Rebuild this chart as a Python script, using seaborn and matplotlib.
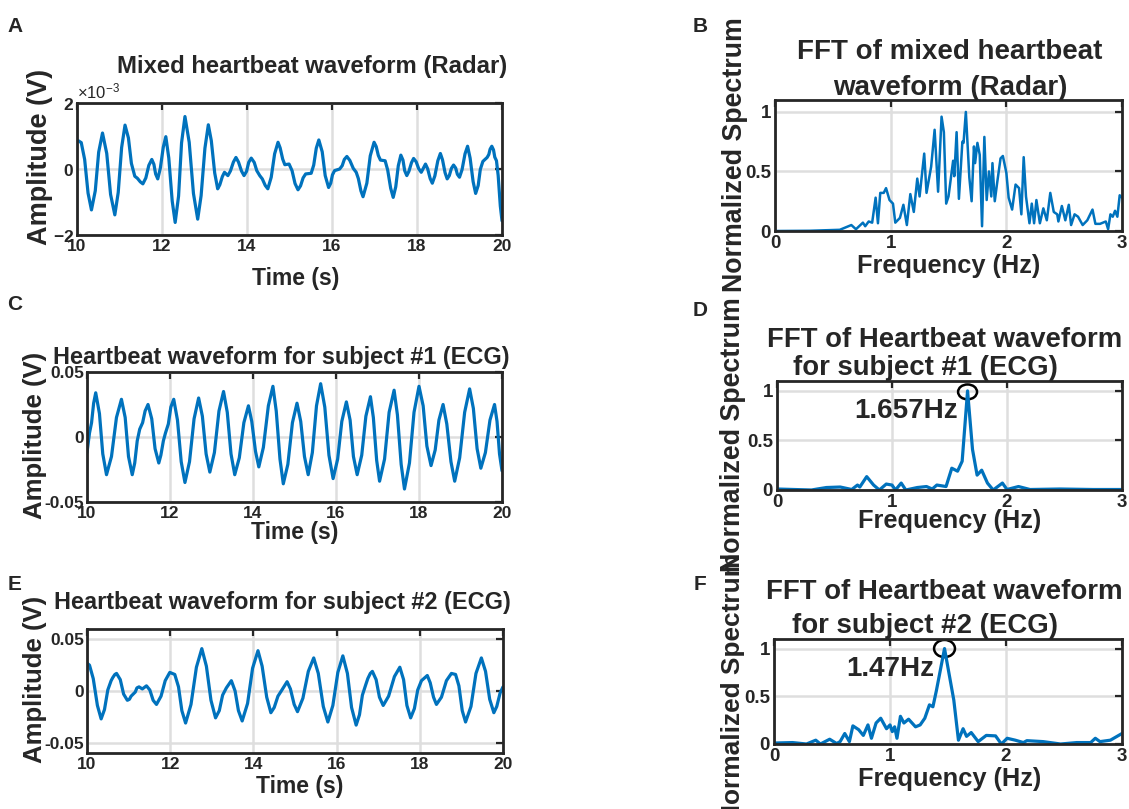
import matplotlib
matplotlib.use("Agg")
import matplotlib.pyplot as plt
from matplotlib.patches import Ellipse
from matplotlib.ticker import ScalarFormatter
import numpy as np
import seaborn as sns

# ---- data -------------------------------------------------------------
# radar waveform, (time s, amplitude mV)
radar_points = [
    (10.0, 0.88), (10.1, 0.8), (10.18, 0.29), (10.26, -0.73), (10.34, -1.24),
    (10.43, -0.66), (10.51, 0.51), (10.6, 1.09), (10.70, 0.47), (10.79, -0.77),
    (10.89, -1.39), (10.97, -0.71), (11.05, 0.65), (11.13, 1.33), (11.21, 0.94),
    (11.28, 0.17), (11.36, -0.22), (11.42, -0.28), (11.49, -0.39), (11.55, -0.45),
    (11.62, -0.27), (11.69, 0.11), (11.76, 0.29), (11.81, 0.14), (11.85, -0.15),
    (11.9, -0.3), (11.96, 0.02), (12.03, 0.66), (12.09, 0.98), (12.16, 0.33),
    (12.24, -0.97), (12.31, -1.62), (12.39, -0.82), (12.46, 0.79), (12.54, 1.59),
    (12.64, 0.81), (12.74, -0.74), (12.84, -1.52), (12.92, -0.81), (13.01, 0.63),
    (13.09, 1.34), (13.16, 0.86), (13.24, -0.12), (13.31, -0.6), (13.36, -0.48),
    (13.42, -0.23), (13.47, -0.1), (13.55, -0.2), (13.61, -0.06), (13.68, 0.21),
    (13.74, 0.35), (13.80, 0.21), (13.87, -0.06), (13.93, -0.2), (13.99, -0.07),
    (14.04, 0.20), (14.1, 0.33), (14.17, 0.2), (14.23, -0.05), (14.3, -0.2),
    (14.36, -0.3), (14.43, -0.5), (14.49, -0.6), (14.57, -0.25), (14.65, 0.46),
    (14.73, 0.81), (14.78, 0.64), (14.84, 0.30), (14.89, 0.13), (14.99, 0.15),
    (15.06, -0.05), (15.13, -0.44), (15.2, -0.63), (15.26, -0.51), (15.32, -0.27),
    (15.38, -0.15), (15.51, -0.13), (15.57, 0.12), (15.63, 0.63), (15.69, 0.88),
    (15.77, 0.52), (15.84, -0.20), (15.92, -0.56), (15.97, -0.43), (16.01, -0.18),
    (16.06, -0.05), (16.18, 0.0), (16.24, 0.10), (16.29, 0.29), (16.35, 0.38),
    (16.42, 0.26), (16.5, 0.02), (16.57, -0.1), (16.62, -0.29), (16.68, -0.66),
    (16.73, -0.84), (16.82, -0.43), (16.9, 0.40), (16.99, 0.81), (17.04, 0.68),
    (17.09, 0.41), (17.14, 0.27), (17.25, 0.25), (17.31, -0.03), (17.38, -0.58),
    (17.44, -0.86), (17.5, -0.54), (17.56, 0.10), (17.62, 0.42), (17.67, 0.27),
    (17.71, -0.05), (17.76, -0.2), (17.81, -0.07), (17.87, 0.19), (17.92, 0.32),
    (17.98, 0.22), (18.04, 0.01), (18.1, -0.1), (18.2, 0.15), (18.25, 0.01),
    (18.31, -0.29), (18.36, -0.43), (18.42, -0.21), (18.49, 0.25), (18.55, 0.47),
    (18.6, 0.28), (18.66, -0.11), (18.71, -0.3), (18.76, -0.2), (18.81, 0.02),
    (18.86, 0.12), (18.91, 0.03), (18.95, -0.16), (19.0, -0.25), (19.06, -0.02),
    (19.13, 0.46), (19.19, 0.69), (19.25, 0.33), (19.32, -0.38), (19.38, -0.74),
    (19.44, -0.50), (19.49, -0.01), (19.55, 0.23), (19.65, 0.35), (19.69, 0.44),
    (19.72, 0.6), (19.76, 0.69), (19.8, 0.58), (19.83, 0.36), (19.87, 0.25),
    (19.91, -0.2), (19.96, -1.12), (20.0, -1.57),
]

# ECG, subject 1, (time s, amplitude V)
ecg1_points = [
    (10.0, -0.012), (10.06, 0.003), (10.11, 0.011), (10.16, 0.026), (10.21, 0.034),
    (10.30, 0.018), (10.38, -0.013), (10.47, -0.029), (10.59, -0.015), (10.71, 0.015),
    (10.83, 0.029), (10.92, 0.015), (11.0, -0.015), (11.09, -0.029), (11.15, -0.020),
    (11.21, -0.003), (11.27, 0.006), (11.34, 0.011), (11.40, 0.020), (11.47, 0.025),
    (11.56, 0.014), (11.64, -0.009), (11.73, -0.020), (11.78, -0.014), (11.84, -0.003),
    (11.89, 0.003), (11.96, 0.010), (12.02, 0.023), (12.09, 0.029), (12.18, 0.013),
    (12.27, -0.019), (12.36, -0.035), (12.47, -0.019), (12.58, 0.014), (12.69, 0.030),
    (12.78, 0.016), (12.87, -0.013), (12.96, -0.027), (13.07, -0.012), (13.18, 0.020),
    (13.29, 0.035), (13.38, 0.019), (13.47, -0.013), (13.56, -0.029), (13.67, -0.016),
    (13.78, 0.011), (13.89, 0.024), (13.97, 0.012), (14.06, -0.011), (14.14, -0.023),
    (14.25, -0.008), (14.37, 0.024), (14.48, 0.039), (14.56, 0.020), (14.65, -0.017),
    (14.73, -0.036), (14.84, -0.021), (14.95, 0.011), (15.06, 0.026), (15.15, 0.012),
    (15.24, -0.015), (15.33, -0.029), (15.43, -0.012), (15.53, 0.024), (15.63, 0.041),
    (15.73, 0.023), (15.83, -0.014), (15.93, -0.032), (16.04, -0.017), (16.14, 0.012),
    (16.25, 0.027), (16.34, 0.013), (16.42, -0.015), (16.51, -0.029), (16.62, -0.014),
    (16.72, 0.016), (16.83, 0.031), (16.90, 0.015), (16.98, -0.018), (17.05, -0.034),
    (17.17, -0.017), (17.28, 0.019), (17.4, 0.036), (17.48, 0.017), (17.57, -0.021),
    (17.65, -0.040), (17.77, -0.020), (17.88, 0.019), (18.0, 0.039), (18.10, 0.024),
    (18.19, -0.007), (18.29, -0.022), (18.39, -0.010), (18.48, 0.013), (18.58, 0.025),
    (18.67, 0.010), (18.77, -0.019), (18.86, -0.034), (18.98, -0.016), (19.10, 0.019),
    (19.22, 0.037), (19.31, 0.022), (19.40, -0.009), (19.49, -0.024), (19.60, -0.012),
    (19.71, 0.013), (19.82, 0.025), (19.88, 0.012), (19.94, -0.013), (20.0, -0.026),
]

# ECG, subject 2, (time s, amplitude V)
ecg2_points = [
    (10.0, 0.027), (10.06, 0.025), (10.15, 0.012), (10.25, -0.014), (10.34, -0.027),
    (10.42, -0.018), (10.50, 0.001), (10.58, 0.010), (10.62, 0.013), (10.67, 0.016),
    (10.71, 0.017), (10.80, 0.011), (10.88, -0.003), (10.97, -0.009), (11.02, -0.008),
    (11.06, -0.005), (11.11, -0.003), (11.16, -0.001), (11.2, 0.003), (11.25, 0.004),
    (11.33, 0.002), (11.43, 0.005), (11.51, 0.001), (11.59, -0.009), (11.67, -0.013),
    (11.78, -0.005), (11.88, 0.010), (11.99, 0.018), (12.11, 0.016), (12.2, 0.004),
    (12.28, -0.019), (12.37, -0.031), (12.5, -0.013), (12.63, 0.023), (12.76, 0.041),
    (12.87, 0.024), (12.98, -0.009), (13.09, -0.026), (13.18, -0.019), (13.26, -0.004),
    (13.35, 0.003), (13.47, 0.010), (13.56, 0.000), (13.64, -0.019), (13.73, -0.029),
    (13.86, -0.012), (13.98, 0.022), (14.11, 0.039), (14.21, 0.024), (14.32, -0.006),
    (14.42, -0.021), (14.5, -0.016), (14.59, -0.005), (14.67, 0.0), (14.81, 0.009),
    (14.89, 0.002), (14.98, -0.013), (15.06, -0.020), (15.19, -0.007), (15.32, 0.019),
    (15.45, 0.032), (15.56, 0.017), (15.68, -0.015), (15.79, -0.030), (15.91, -0.014),
    (16.03, 0.018), (16.15, 0.034), (16.26, 0.017), (16.36, -0.016), (16.47, -0.033),
    (16.55, -0.023), (16.62, -0.004), (16.7, 0.006), (16.75, 0.012), (16.81, 0.017),
    (16.86, 0.019), (16.95, 0.011), (17.03, -0.006), (17.12, -0.014), (17.25, -0.005),
    (17.39, 0.014), (17.52, 0.023), (17.61, 0.011), (17.69, -0.014), (17.78, -0.026),
    (17.87, -0.017), (17.95, 0.001), (18.04, 0.010), (18.18, 0.015), (18.25, 0.008),
    (18.33, -0.006), (18.4, -0.013), (18.52, -0.006), (18.64, 0.010), (18.76, 0.017),
    (18.86, 0.016), (18.94, 0.005), (19.02, -0.019), (19.1, -0.030), (19.23, -0.015),
    (19.35, 0.017), (19.48, 0.032), (19.58, 0.019), (19.68, -0.008), (19.78, -0.021),
    (19.85, -0.015), (19.93, -0.002), (20.0, 0.004),
]

fft_radar_f = [0.0, 0.3, 0.56, 0.66, 0.70, 0.76, 0.78, 0.81, 0.84, 0.87,
               0.89, 0.91, 0.94, 0.96, 0.99, 1.02, 1.04, 1.08, 1.11, 1.14,
               1.17, 1.20, 1.23, 1.25, 1.29, 1.31, 1.35, 1.38, 1.41, 1.44,
               1.46, 1.48, 1.50, 1.54, 1.55, 1.57, 1.59, 1.62, 1.63, 1.65,
               1.68, 1.70, 1.72, 1.73, 1.75, 1.77, 1.79, 1.81, 1.83, 1.85,
               1.87, 1.88, 1.90, 1.92, 1.95, 1.97, 2.00, 2.02, 2.05, 2.08,
               2.11, 2.13, 2.15, 2.17, 2.20, 2.22, 2.24, 2.26, 2.29, 2.32,
               2.35, 2.38, 2.41, 2.44, 2.45, 2.48, 2.51, 2.54, 2.56, 2.59,
               2.62, 2.66, 2.70, 2.745, 2.77, 2.81, 2.86, 2.88, 2.90, 2.92,
               2.94, 2.96, 2.98, 3.0]
fft_radar_s = [0.0, 0.002, 0.01, 0.05, 0.015, 0.07, 0.04, 0.08, 0.07, 0.28,
               0.065, 0.32, 0.32, 0.36, 0.26, 0.23, 0.07, 0.11, 0.22, 0.05,
               0.31, 0.16, 0.44, 0.29, 0.65, 0.32, 0.54, 0.85, 0.33, 0.96,
               0.83, 0.23, 0.29, 0.59, 0.46, 0.83, 0.27, 0.75, 0.74, 1.0,
               0.45, 0.25, 0.71, 0.57, 0.74, 0.64, 0.04, 0.79, 0.26, 0.50,
               0.29, 0.57, 0.25, 0.40, 0.61, 0.63, 0.49, 0.28, 0.18, 0.39,
               0.36, 0.14, 0.62, 0.29, 0.065, 0.23, 0.065, 0.26, 0.065, 0.19,
               0.09, 0.32, 0.16, 0.14, 0.08, 0.21, 0.09, 0.22, 0.05, 0.14,
               0.12, 0.05, 0.09, 0.18, 0.06, 0.06, 0.08, 0.015, 0.14, 0.12,
               0.17, 0.12, 0.30, 0.28]

fft_ecg1_f = [0.0, 0.30, 0.35, 0.43, 0.55, 0.65, 0.70, 0.72, 0.78, 0.84,
              0.89, 0.95, 1.00, 1.03, 1.08, 1.12, 1.22, 1.30, 1.35, 1.39,
              1.47, 1.52, 1.57, 1.61, 1.657, 1.70, 1.74, 1.78, 1.83, 1.88,
              1.96, 2.0, 2.10, 2.20, 2.46, 2.75, 3.0]
fft_ecg1_s = [0.01, 0.0, 0.01, 0.025, 0.03, 0.005, 0.05, 0.03, 0.135, 0.05,
              0.0, 0.06, 0.05, 0.0, 0.07, 0.0, 0.025, 0.035, 0.01, 0.05,
              0.035, 0.22, 0.19, 0.29, 1.0, 0.41, 0.15, 0.20, 0.07, 0.0,
              0.07, 0.005, 0.035, 0.005, 0.01, 0.005, 0.005]

fft_ecg2_f = [0.0, 0.16, 0.28, 0.36, 0.40, 0.48, 0.54, 0.57, 0.61, 0.65,
              0.68, 0.73, 0.77, 0.81, 0.84, 0.88, 0.92, 0.97, 1.00, 1.02,
              1.04, 1.06, 1.09, 1.12, 1.16, 1.22, 1.26, 1.30, 1.34, 1.37,
              1.40, 1.47, 1.55, 1.59, 1.63, 1.66, 1.70, 1.76, 1.83, 1.91,
              1.96, 2.01, 2.08, 2.15, 2.18, 2.32, 2.47, 2.61, 2.73, 2.77,
              2.81, 2.90, 3.0]
fft_ecg2_s = [0.01, 0.015, 0.0, 0.04, 0.0, 0.05, 0.005, 0.025, 0.11, 0.025,
              0.19, 0.15, 0.09, 0.20, 0.06, 0.22, 0.27, 0.16, 0.20, 0.13,
              0.18, 0.06, 0.29, 0.22, 0.26, 0.18, 0.20, 0.27, 0.41, 0.39,
              0.56, 1.0, 0.46, 0.04, 0.16, 0.08, 0.12, 0.025, 0.09, 0.085,
              0.0, 0.06, 0.04, 0.015, 0.035, 0.025, 0.0, 0.015, 0.015, 0.06,
              0.025, 0.04, 0.11]

peak1_hz = 1.657
peak2_hz = 1.47

time_ticks = [10, 12, 14, 16, 18, 20]
freq_ticks = [0, 1, 2, 3]
spec_ticks = [0, 0.5, 1]
spec_labels = ["0", "0.5", "1"]
ecg_ticks = [-0.05, 0, 0.05]
ecg_labels = ["-0.05", "0", "0.05"]

# ---- style ------------------------------------------------------------
sns.set_theme(style="white")
plt.rcParams.update({
    "font.family": ["Liberation Sans", "DejaVu Sans"],
    "font.weight": "bold",
    "mathtext.default": "regular",
    "axes.unicode_minus": False,
    "axes.edgecolor": "#262626",
    "axes.linewidth": 2.0,
    "xtick.direction": "in",
    "ytick.direction": "in",
    "xtick.major.size": 5,
    "ytick.major.size": 5,
    "xtick.major.width": 1.6,
    "ytick.major.width": 1.6,
    "xtick.color": "#262626",
    "ytick.color": "#262626",
    "xtick.top": True,
    "ytick.right": True,
})
LINE = "#0072BD"
GRID = "#dedede"

W, H = 1129, 809
fig = plt.figure(figsize=(W / 100, H / 100), dpi=100)


def box(left, top, right, bottom):
    return fig.add_axes([left / W, 1 - bottom / H, (right - left) / W, (bottom - top) / H])


def txt(x, y, s, size, **kw):
    fig.text(x / W, 1 - y / H, s, fontsize=size, fontweight="bold",
             ha=kw.pop("ha", "center"), va=kw.pop("va", "center"), **kw)


def style(ax, xt, yt, xlim, ylim, labelsize):
    ax.set_xlim(*xlim)
    ax.set_ylim(*ylim)
    ax.set_xticks(xt)
    ax.set_yticks(yt)
    ax.grid(True, color=GRID, linewidth=1.8)
    ax.set_axisbelow(True)
    ax.set_xlabel("")
    ax.set_ylabel("")
    for sp in ax.spines.values():
        sp.set_visible(True)
        sp.set_color("#262626")
        sp.set_linewidth(2.0)
    ax.tick_params(axis="both", pad=3, labelsize=labelsize)
    for lab in ax.get_xticklabels() + ax.get_yticklabels():
        lab.set_fontweight("bold")


def series(points):
    t = np.array([p[0] for p in points])
    v = np.array([p[1] for p in points])
    return t, v


# A: radar waveform
axA = box(77, 103, 502, 235)
ta, va = series(radar_points)
sns.lineplot(x=ta, y=va * 1e-3, ax=axA, color=LINE, linewidth=2.3, sort=False)
style(axA, time_ticks, [-2e-3, 0, 2e-3], (10, 20), (-2e-3, 2e-3), 12.5)
fmt = ScalarFormatter(useMathText=True)
fmt.set_powerlimits((-2, 2))
axA.yaxis.set_major_formatter(fmt)
off = axA.yaxis.get_offset_text()
off.set_fontsize(12)
off.set_fontweight("normal")
axA.tick_params(axis="y", pad=2)

# B: radar spectrum
axB = box(775, 100, 1122, 231)
sns.lineplot(x=fft_radar_f, y=fft_radar_s, ax=axB, color=LINE, linewidth=1.8, sort=False)
style(axB, freq_ticks, spec_ticks, (0, 3), (0, 1.1), 13.5)
axB.set_yticklabels(spec_labels)

# C: ECG subject 1
axC = box(87, 372, 502, 502)
tc, vc = series(ecg1_points)
sns.lineplot(x=tc, y=vc, ax=axC, color=LINE, linewidth=2.3, sort=False)
style(axC, time_ticks, ecg_ticks, (10, 20), (-0.05, 0.05), 12.5)
axC.set_yticklabels(ecg_labels)
axC.tick_params(axis="y", pad=2)

# D: ECG subject 1 spectrum
axD = box(777, 381, 1122, 490)
sns.lineplot(x=fft_ecg1_f, y=fft_ecg1_s, ax=axD, color=LINE, linewidth=2.3, sort=False)
style(axD, freq_ticks, spec_ticks, (0, 3), (0, 1.1), 13.5)
axD.set_yticklabels(spec_labels)
axD.add_patch(Ellipse((peak1_hz, 0.99), 0.165, 0.15, fill=False,
                      edgecolor="black", linewidth=1.8))
axD.text(peak1_hz - 0.085, 0.8, f"{peak1_hz:.3f}Hz", ha="right", va="center",
         fontsize=20, fontweight="bold")

# E: ECG subject 2
axE = box(87, 629, 503, 753)
te, ve = series(ecg2_points)
sns.lineplot(x=te, y=ve, ax=axE, color=LINE, linewidth=2.3, sort=False)
style(axE, time_ticks, ecg_ticks, (10, 20), (-0.06, 0.06), 12.5)
axE.set_yticklabels(ecg_labels)
axE.tick_params(axis="y", pad=2)

# F: ECG subject 2 spectrum
axF = box(774, 639, 1122, 744)
sns.lineplot(x=fft_ecg2_f, y=fft_ecg2_s, ax=axF, color=LINE, linewidth=2.3, sort=False)
style(axF, freq_ticks, spec_ticks, (0, 3), (0, 1.1), 13.5)
axF.set_yticklabels(spec_labels)
axF.add_patch(Ellipse((peak2_hz, 1.0), 0.18, 0.18, fill=False,
                      edgecolor="black", linewidth=1.8))
axF.text(peak2_hz - 0.085, 0.79, f"{peak2_hz:.2f}Hz", ha="right", va="center",
         fontsize=20, fontweight="bold")

# titles
txt(312, 66, "Mixed heartbeat waveform (Radar)", 17.2)
txt(950, 52, "FFT of mixed heartbeat", 20)
txt(950, 88, "waveform (Radar)", 20)
txt(281, 357, "Heartbeat waveform for subject #1 (ECG)", 16.9)
txt(945, 340, "FFT of Heartbeat waveform", 19.8)
txt(925, 368, "for subject #1 (ECG)", 19.8)
txt(282, 603, "Heartbeat waveform for subject #2 (ECG)", 16.9)
txt(944, 592, "FFT of Heartbeat waveform", 19.9)
txt(925, 626, "for subject #2 (ECG)", 19.9)

# axis labels
txt(296, 278, "Time (s)", 16.5)
txt(295, 532, "Time (s)", 16.5)
txt(300, 787, "Time (s)", 16.5)
txt(949, 266, "Frequency (Hz)", 18.3)
txt(950, 521, "Frequency (Hz)", 18.3)
txt(950, 779, "Frequency (Hz)", 18.3)
txt(40, 157, "Amplitude (V)", 19.5, rotation=90)
txt(35, 435, "Amplitude (V)", 18.5, rotation=90)
txt(35, 679, "Amplitude (V)", 18.5, rotation=90)
txt(735, 155, "Normalized Spectrum", 19.3, rotation=90)
txt(733, 435, "Normalized Spectrum", 19.3, rotation=90)
txt(733, 688, "Normalized Spectrum", 18.9, rotation=90)

# panel letters
for letter, x, y in [("A", 15, 27), ("B", 700, 27), ("C", 15, 305),
                     ("D", 700, 310), ("E", 15, 585), ("F", 700, 585)]:
    txt(x, y, letter, 15)

fig.savefig("out.png", dpi=100, facecolor="white")
